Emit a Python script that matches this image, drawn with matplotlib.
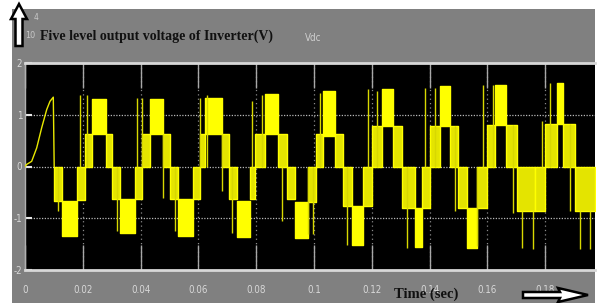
import matplotlib
matplotlib.use('Agg')
import matplotlib.pyplot as plt
from matplotlib.patches import Polygon, Rectangle

# ---------------- data ----------------
title_text = "Five level output voltage of Inverter(V)"
xlabel_text = "Time (sec)"
x_ticks = [0, 0.02, 0.04, 0.06, 0.08, 0.10, 0.12, 0.14, 0.16, 0.18]
x_ticklabels = ['0', '0.02', '0.04', '0.06', '0.08', '0.1', '0.12', '0.14', '0.16', '0.18']
y_ticks = [-2, -1, 0, 1, 2]
y_ticklabels = ['-2', '-1', '0', '1', '2']

# initial transient curve
ramp_t = [0.0, 0.00058, 0.00231, 0.00405, 0.00578, 0.00751, 0.00865, 0.00979, 0.0101]
ramp_v = [0.0, 0.04, 0.10, 0.36, 0.75, 1.10, 1.26, 1.34, 0.0]

# switching blocks: the output chatters between two adjacent levels
block_start = [0.0101, 0.0127, 0.0179, 0.0208, 0.0231, 0.0280, 0.0302, 0.0329, 0.0381,
               0.0404, 0.0433, 0.0479, 0.0502, 0.0529, 0.0581, 0.0606, 0.0623, 0.0681,
               0.0706, 0.0733, 0.0779, 0.0796, 0.0830, 0.0877, 0.0906, 0.0934, 0.0978,
               0.1007, 0.1032, 0.1073, 0.1101, 0.1131, 0.1171, 0.1200, 0.1234, 0.1274,
               0.1304, 0.1350, 0.1373, 0.1401, 0.1436, 0.1471, 0.1499, 0.1528, 0.1563,
               0.1598, 0.1626, 0.1664, 0.1701, 0.1765, 0.1799, 0.1840, 0.1863, 0.1903]
block_end = [0.0127, 0.0179, 0.0208, 0.0231, 0.0280, 0.0302, 0.0329, 0.0381, 0.0404,
             0.0433, 0.0479, 0.0502, 0.0529, 0.0581, 0.0606, 0.0623, 0.0681, 0.0706,
             0.0733, 0.0779, 0.0796, 0.0830, 0.0877, 0.0906, 0.0934, 0.0978, 0.1007,
             0.1032, 0.1073, 0.1101, 0.1131, 0.1171, 0.1200, 0.1234, 0.1274, 0.1304,
             0.1350, 0.1373, 0.1401, 0.1436, 0.1471, 0.1499, 0.1528, 0.1563, 0.1598,
             0.1626, 0.1664, 0.1701, 0.1765, 0.1799, 0.1840, 0.1863, 0.1903, 0.1972]
block_low = [-0.67, -1.35, -0.64, 0.0, 0.62, 0.0, -0.62, -1.28, -0.62,
             0.0, 0.62, 0.0, -0.62, -1.35, -0.62, 0.0, 0.62, 0.0,
             -0.62, -1.37, -0.62, 0.0, 0.62, 0.0, -0.62, -1.39, -0.69,
             0.0, 0.58, 0.0, -0.77, -1.51, -0.77, 0.0, 0.78, 0.0,
             -0.80, -1.55, -0.80, 0.0, 0.78, 0.0, -0.80, -1.57, -0.80,
             0.0, 0.80, 0.0, -0.86, -0.86, 0.0, 0.82, 0.0, -0.86]
block_high = [0.0, -0.67, 0.0, 0.62, 1.30, 0.62, 0.0, -0.62, 0.0,
              0.62, 1.30, 0.62, 0.0, -0.62, 0.0, 0.62, 1.32, 0.62,
              0.0, -0.67, 0.0, 0.62, 1.40, 0.62, 0.0, -0.69, 0.0,
              0.62, 1.46, 0.62, 0.0, -0.77, 0.0, 0.78, 1.50, 0.78,
              0.0, -0.80, 0.0, 0.78, 1.55, 0.78, 0.0, -0.80, 0.0,
              0.80, 1.58, 0.80, 0.0, 0.0, 0.82, 1.62, 0.82, 0.0]

# isolated switching spikes
spike_t = [0.01152, 0.01903, 0.02135, 0.03173, 0.03865, 0.04038, 0.04785, 0.05190,
           0.06055, 0.06287, 0.06806, 0.07152, 0.07844, 0.08190, 0.08882, 0.09803,
           0.09976, 0.10208, 0.11131, 0.11879, 0.12170, 0.13208, 0.13841, 0.14187,
           0.14879, 0.15630, 0.15858, 0.16204, 0.16896, 0.17187, 0.17588, 0.17879,
           0.18166, 0.18858, 0.19204, 0.19550]
spike_lo = [-0.86, 0.0, 0.0, -1.25, 0.0, 0.0, -0.61, -1.25,
            0.0, 0.0, -0.48, -1.28, 0.0, 0.0, -1.06, -1.31,
            -1.31, 0.0, -1.51, 0.0, 0.0, -1.57, 0.0, 0.0,
            -0.86, -1.54, 0.0, 0.0, -0.90, -1.57, -1.60, 0.0,
            0.0, -0.86, -1.60, -1.60]
spike_hi = [0.0, 1.38, 1.39, 0.0, 1.33, 1.33, 0.62, 0.0,
            1.33, 1.38, 0.62, 0.0, 1.26, 1.38, 0.0, 0.0,
            0.0, 1.42, 0.0, 1.49, 1.46, 0.0, 1.52, 1.52,
            0.78, 0.0, 1.58, 1.58, 0.80, -0.86, -0.86, 0.88,
            1.62, 0.82, -0.86, -0.86]

x_range = (0.0, 0.19723)
y_range = (-2.0, 2.0)

# ---------------- figure ----------------
W, H = 600, 303
fig = plt.figure(figsize=(W / 100, H / 100), dpi=100)
fig.patch.set_facecolor('white')


def fx(px):
    return px / W


def fy(py):
    return 1 - py / H


# gray scope panel
fig.add_artist(Rectangle((fx(12), fy(303)), fx(595) - fx(12), fy(9) - fy(303),
                         transform=fig.transFigure, facecolor='#808080',
                         edgecolor='none', zorder=0))

ax = fig.add_axes([fx(25), fy(270), fx(595) - fx(25), fy(63) - fy(270)])
ax.set_facecolor('black')
ax.set_xlim(*x_range)
ax.set_ylim(*y_range)

# grid
for t in x_ticks[1:]:
    ax.axvline(t, color='#8a8a8a', ls=(0, (1, 2.5)), lw=0.9, zorder=1)
for v in [-1, 0, 1]:
    ax.axhline(v, color='#b8b8b8', ls=(0, (1, 1.2)), lw=0.9, zorder=1)

yellow = '#ffff00'
ax.plot(ramp_t, ramp_v, color='#e8e800', lw=1.0, zorder=3)
for t0, t1, lo, hi in zip(block_start, block_end, block_low, block_high):
    peak = abs(lo) > 0.5 and abs(hi) > 0.5
    ax.fill_between([t0, t1], [lo, lo], [hi, hi],
                    facecolor=yellow if peak else '#e4e400',
                    edgecolor=yellow, lw=1.0, zorder=3)
ax.vlines(spike_t, spike_lo, spike_hi, color='#d8d800', lw=1.0, zorder=3)

# ticks
tick_family = ['Liberation Sans Narrow', 'DejaVu Sans']
ax.set_xticks(x_ticks)
ax.set_xticklabels(x_ticklabels, color='#d8d8d8', fontsize=7,
                   family=tick_family, fontstretch='condensed')
ax.set_yticks(y_ticks)
ax.set_yticklabels(y_ticklabels, color='#d8d8d8', fontsize=7,
                   family=tick_family, fontstretch='condensed')
ax.tick_params(axis='x', direction='in', length=18, width=1.0, color='#a8a8a8',
               top=True, bottom=True, pad=11)
ax.tick_params(axis='y', direction='in', length=5, width=1.5, color='#e8e8e8',
               left=True, right=False, pad=2)

for side in ['top', 'bottom']:
    ax.spines[side].set_color('#d8d8d8')
    ax.spines[side].set_linewidth(2.0)
ax.spines['left'].set_color('#b0b0b0')
ax.spines['left'].set_linewidth(1.0)
ax.spines['right'].set_visible(False)

# texts
fig.text(fx(40), fy(36), title_text, family='Liberation Serif', fontweight='bold',
         fontsize=10, color='#111111', ha='left', va='center')
fig.text(fx(426), fy(294), xlabel_text, family='Liberation Serif', fontweight='bold',
         fontsize=10.5, color='#111111', ha='center', va='center')
fig.text(fx(313), fy(38), 'Vdc', family=tick_family, fontstretch='condensed',
         fontsize=7, color='#d0d0d0', ha='center', va='center')
fig.text(fx(30), fy(36), '10', family=tick_family, fontstretch='condensed',
         fontsize=6.5, color='#c8c8c8', ha='center', va='center')
fig.text(fx(35.5), fy(18), '4', family=tick_family, fontstretch='condensed',
         fontsize=6, color='#c8c8c8', ha='center', va='center')

# arrows (outline style)
up = [(19, 4), (27, 19), (22.5, 19), (22.5, 46), (15.5, 46), (15.5, 19), (11, 19)]
fig.add_artist(Polygon([(fx(x), fy(y)) for x, y in up], closed=True,
                       transform=fig.transFigure, facecolor='white',
                       edgecolor='black', lw=1.8, zorder=5))
right = [(523, 292), (560, 292), (558, 288), (588, 295), (558, 302), (560, 298), (523, 298)]
fig.add_artist(Polygon([(fx(x), fy(y)) for x, y in right], closed=True,
                       transform=fig.transFigure, facecolor='white',
                       edgecolor='black', lw=1.8, zorder=5))

fig.savefig('out.png', dpi=100, facecolor='white')
